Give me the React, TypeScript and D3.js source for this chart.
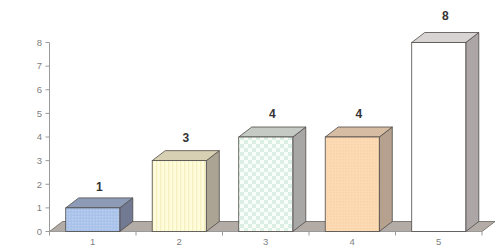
import React from 'react';
import * as d3 from 'd3';

const categories = ['1', '2', '3', '4', '5'];
const values = [1, 3, 4, 4, 8];
const yTicks = [0, 1, 2, 3, 4, 5, 6, 7, 8];

const fronts = ['url(#pBlue)', 'url(#pYellow)', 'url(#pChecker)', 'url(#pPeach)', '#ffffff'];
const tops = ['#8d9bb7', '#d8d0b2', '#c6cac4', '#d6bca2', '#d8d4d4'];
const sides = ['#717a92', '#aba393', '#a9a6a6', '#b6a08e', '#aca6a6'];

const W = 503;
const H = 251;
const DX = 13;
const DY = -10;

export default function App() {
    const x = d3.scaleBand<string>().domain(categories).range([49.5, 482]).paddingInner(0.375).paddingOuter(0.1875);
    const y = d3.scaleLinear().domain([0, 8]).range([231.5, 42.5]);
    // value labels drift slightly upward relative to the bar tops
    const yLabel = d3.scaleLinear().domain([0, 8]).range([216, 19.5]);
    const step = x.step();
    const bw = x.bandwidth();
    const y0 = y(0);
    const x0 = 49.5;
    const x1 = 482;

    const floor = `M${x0},${y0}L${x1},${y0}L${x1 + DX},${y0 + DY}L${x0 + DX},${y0 + DY}Z`;

    return (
        <svg width={W} height={H} style={{ position: 'absolute', left: 0, top: 0, background: '#fff' }}>
            <defs>
                <pattern id="pBlue" width="3" height="3" patternUnits="userSpaceOnUse">
                    <rect width="3" height="3" fill="#a9c2ea" />
                    <rect width="1.5" height="1.5" fill="#bccff0" />
                </pattern>
                <pattern id="pYellow" width="4" height="4" patternUnits="userSpaceOnUse">
                    <rect width="4" height="4" fill="#fffcdc" />
                    <rect width="1.3" height="4" fill="#f6efc0" />
                </pattern>
                <pattern id="pChecker" width="8" height="8" patternUnits="userSpaceOnUse">
                    <rect width="8" height="8" fill="#f8fdfa" />
                    <rect width="4" height="4" fill="#dbefe4" />
                    <rect x="4" y="4" width="4" height="4" fill="#dbefe4" />
                </pattern>
                <pattern id="pPeach" width="3" height="3" patternUnits="userSpaceOnUse">
                    <rect width="3" height="3" fill="#fcdab4" />
                    <rect width="1.5" height="1.5" fill="#f9d3aa" />
                </pattern>
            </defs>

            {/* floor */}
            <path d={floor} fill="#b3aca6" stroke="#6a6460" strokeWidth={0.8} />

            {/* y axis */}
            <line x1={x0} x2={x0} y1={y(8)} y2={y0} stroke="#9a9a9a" strokeWidth={1} />
            {yTicks.map(t => (
                <g key={t}>
                    <line x1={x0 - 4} x2={x0} y1={y(t)} y2={y(t)} stroke="#9a9a9a" />
                    <text x={42} y={y(t)} dy="0.35em" textAnchor="end" fontFamily="Liberation Sans, Arial" fontSize={9.5} fill="#808080">{t}</text>
                </g>
            ))}

            {/* x axis */}
            <line x1={x0} x2={x1} y1={y0} y2={y0} stroke="#9a9a9a" />
            {d3.range(categories.length + 1).map(i => {
                const tx = x0 + i * step;
                return <line key={i} x1={tx} x2={tx} y1={y0} y2={y0 + 4} stroke="#9a9a9a" />;
            })}
            {categories.map(c => (
                <text key={c} x={(x(c) as number) + bw / 2} y={y0 + 13} textAnchor="middle" fontFamily="Liberation Sans, Arial" fontSize={9.5} fill="#808080">{c}</text>
            ))}

            {/* bars */}
            {categories.map((c, i) => {
                const bx = x(c) as number;
                const top = y(values[i]);
                const topFace = `M${bx},${top}L${bx + DX},${top + DY}L${bx + bw + DX},${top + DY}L${bx + bw},${top}Z`;
                const sideFace = `M${bx + bw},${top}L${bx + bw + DX},${top + DY}L${bx + bw + DX},${y0 + DY}L${bx + bw},${y0}Z`;
                return (
                    <g key={c}>
                        <path d={sideFace} fill={sides[i]} stroke="#4e4a48" strokeWidth={0.8} />
                        <path d={topFace} fill={tops[i]} stroke="#4e4a48" strokeWidth={0.8} />
                        <rect x={bx} y={top} width={bw} height={y0 - top} fill={fronts[i]} stroke="#4e4a48" strokeWidth={0.8} />
                        <text x={bx + bw / 2 + DX / 2} y={yLabel(values[i])} textAnchor="middle" fontFamily="Liberation Sans, Arial" fontWeight="bold" fontSize={12} fill="#333">{values[i]}</text>
                    </g>
                );
            })}
        </svg>
    );
}
